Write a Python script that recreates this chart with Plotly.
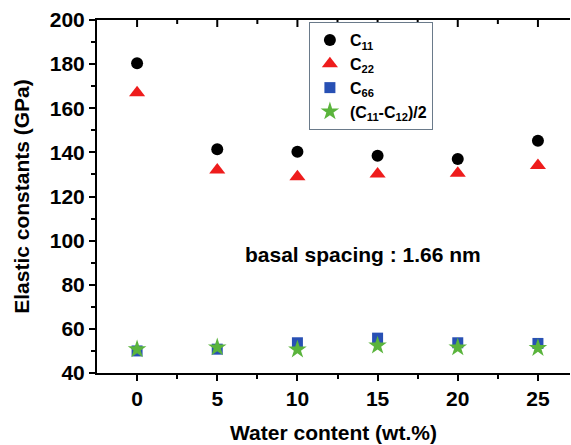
import plotly.graph_objects as go

water = [0, 5, 10, 15, 20, 25]
c11 = [180.4, 141.4, 140.3, 138.5, 137.0, 145.3]
c22 = [167.0, 132.0, 129.0, 130.2, 130.5, 134.0]
c66 = [50.0, 50.8, 53.7, 55.8, 53.7, 53.4]
c_half = [50.7, 51.6, 50.6, 52.4, 51.6, 51.3]

x_ticks = [0, 5, 10, 15, 20, 25]
x_minor = [2.5, 7.5, 12.5, 17.5, 22.5]
y_ticks = [40, 60, 80, 100, 120, 140, 160, 180, 200]

FONT = "Arial"

fig = go.Figure()
fig.add_trace(go.Scatter(x=water, y=c11, mode="markers", name="<b>C<sub>11</sub></b>",
                         marker=dict(symbol="circle", size=12, color="black")))
fig.add_trace(go.Scatter(x=water, y=c22, mode="markers", name="<b>C<sub>22</sub></b>",
                         marker=dict(symbol="triangle-up", size=14, color="#ee1c1c")))
fig.add_trace(go.Scatter(x=water, y=c66, mode="markers", name="<b>C<sub>66</sub></b>",
                         marker=dict(symbol="square", size=11, color="#2850b4")))
fig.add_trace(go.Scatter(x=water, y=c_half, mode="markers",
                         name="<b>(C<sub>11</sub>-C<sub>12</sub>)/2</b>",
                         marker=dict(symbol="star", size=14, color="#5ab43c")))

shapes = []
for xv in x_ticks:
    shapes.append(dict(type="line", xref="x", yref="paper", x0=xv, x1=xv, y0=1, y1=1 - 7 / 353,
                       line=dict(color="black", width=2)))
for xv in x_minor:
    shapes.append(dict(type="line", xref="x", yref="paper", x0=xv, x1=xv, y0=1, y1=1 - 4 / 353,
                       line=dict(color="black", width=2)))

fig.update_layout(
    width=571, height=445,
    margin=dict(l=97, r=1, t=20, b=72),
    paper_bgcolor="white", plot_bgcolor="white",
    font=dict(family=FONT, color="black", weight="bold"),
    showlegend=True,
    legend=dict(x=0.448, y=0.994, xanchor="left", yanchor="top",
                bordercolor="#6a7a8a", borderwidth=1, bgcolor="white",
                font=dict(size=16, family=FONT, color="black", weight="bold"),
                tracegroupgap=4, itemwidth=30),
    shapes=shapes,
    annotations=[dict(text="<b>basal spacing : 1.66 nm</b>", x=14.06, y=93.5, xref="x", yref="y",
                      showarrow=False, font=dict(size=21, color="black", family=FONT, weight="bold"))],
    xaxis=dict(range=[-2.5, 27.0], tickvals=x_ticks, ticktext=[f"<b>{v}</b>" for v in x_ticks],
               showgrid=False, zeroline=False,
               showline=True, linecolor="black", linewidth=2, mirror=True,
               ticks="outside", ticklen=6, tickwidth=2, tickcolor="black",
               minor=dict(tickvals=x_minor, ticks="outside", ticklen=4, tickwidth=2, tickcolor="black"),
               tickfont=dict(size=21, family=FONT, weight="bold"),
               title=dict(text="<b>Water content (wt.%)</b>",
                          font=dict(size=21, family=FONT, weight="bold"), standoff=16)),
    yaxis=dict(range=[40, 200], tickvals=y_ticks, ticktext=[f"<b>{v}</b>" for v in y_ticks],
               showgrid=False, zeroline=False,
               showline=True, linecolor="black", linewidth=2, mirror=False,
               ticks="outside", ticklen=6, tickwidth=2, tickcolor="black",
               minor=dict(dtick=10, ticks="outside", ticklen=4, tickwidth=2, tickcolor="black"),
               tickfont=dict(size=21, family=FONT, weight="bold"),
               title=dict(text="<b>Elastic constants (GPa)</b>",
                          font=dict(size=21, family=FONT, weight="bold"), standoff=14)),
)

fig.write_html("out.html")
